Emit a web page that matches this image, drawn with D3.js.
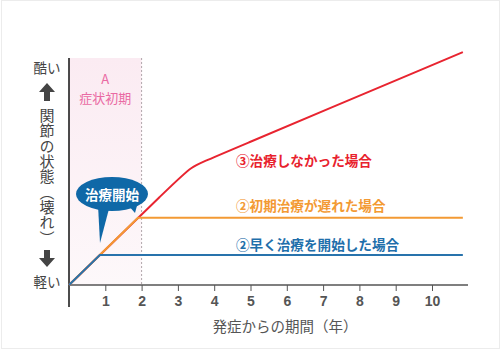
<!DOCTYPE html>
<html>
<head>
<meta charset="utf-8">
<script src="https://cdn.jsdelivr.net/npm/d3@7"></script>
<style>
  body { margin: 0; background: #fff; }
  text { font-family: "Noto Sans CJK JP", "Noto Sans", sans-serif; }
</style>
</head>
<body>
<div id="root"></div>
<script>
// values (years vs. joint damage, 0-100 relative scale)
var years = [1, 2, 3, 4, 5, 6, 7, 8, 9, 10];
var earlyX = [0, 0.85, 10.85];
var earlyY = [0, 13.2, 13.2];
var lateX = [0, 1.9, 10.85];
var lateY = [0, 29.6, 29.6];
var noneX = [0, 2.9, 3.35, 3.9, 10.85];
var noneY = [0, 45, 52, 55.7, 102.6];
var seriesNames = ["②早く治療を開始した場合", "②初期治療が遅れた場合", "③治療しなかった場合"];
var yAxisTitle = "関節の状態（壊れ）";

window.onload = function () {
    var width = 502, height = 351;
    var x = d3.scaleLinear().domain([0, 10]).range([69, 432]);
    var y = d3.scaleLinear().domain([0, 100]).range([285, 58]);

    var svg = d3.select("#root").append("svg")
        .attr("width", width)
        .attr("height", height);

    // outer frame
    svg.append("rect")
        .attr("x", 1.5).attr("y", 0.5)
        .attr("width", 498).attr("height", 348)
        .attr("fill", "#fff")
        .attr("stroke", "#ececec");

    var defs = svg.append("defs");
    var grad = defs.append("linearGradient")
        .attr("id", "pink").attr("x1", 0).attr("y1", 0).attr("x2", 0).attr("y2", 1);
    grad.append("stop").attr("offset", "0%").attr("stop-color", "#fbebf2");
    grad.append("stop").attr("offset", "100%").attr("stop-color", "#fdf8fa");

    // early symptom band (0-2 years)
    svg.append("rect")
        .attr("x", x(0)).attr("y", y(100))
        .attr("width", x(2) - x(0)).attr("height", y(0) - y(100))
        .attr("fill", "url(#pink)");
    svg.append("line")
        .attr("x1", x(2)).attr("x2", x(2))
        .attr("y1", y(100)).attr("y2", y(0))
        .attr("stroke", "#b0a6aa")
        .attr("stroke-dasharray", "2,2");
    svg.append("text")
        .attr("x", (x(0) + x(2)) / 2).attr("y", 84)
        .attr("text-anchor", "middle")
        .attr("fill", "#ea6aa3")
        .style("font-size", "13px")
        .text("A");
    svg.append("text")
        .attr("x", (x(0) + x(2)) / 2).attr("y", 103)
        .attr("text-anchor", "middle")
        .attr("fill", "#ea6aa3")
        .style("font-size", "13px")
        .text("症状初期");

    // x axis
    var xAxis = d3.axisBottom(x).tickValues(years).tickSize(6).tickSizeOuter(0);
    var gx = svg.append("g")
        .attr("transform", "translate(0," + y(0) + ")")
        .call(xAxis);
    gx.select(".domain").remove();
    gx.selectAll(".tick line").attr("stroke", "#555");
    gx.selectAll(".tick text")
        .attr("y", 11)
        .attr("fill", "#555")
        .style("font-family", "'Liberation Sans', Arial, sans-serif")
        .style("font-size", "14px")
        .style("font-weight", "bold");
    svg.append("line")
        .attr("x1", x(0)).attr("x2", 468)
        .attr("y1", y(0)).attr("y2", y(0))
        .attr("stroke", "#555").attr("stroke-width", 1.5);
    svg.append("line")
        .attr("x1", x(0)).attr("x2", x(0))
        .attr("y1", y(100)).attr("y2", 307)
        .attr("stroke", "#111").attr("stroke-width", 1.5);

    svg.append("text")
        .attr("x", 285).attr("y", 332)
        .attr("text-anchor", "middle")
        .attr("fill", "#555")
        .style("font-size", "14.5px")
        .text("発症からの期間（年）");

    // y axis labels
    svg.append("text")
        .attr("x", 47).attr("y", 73)
        .attr("text-anchor", "middle")
        .attr("fill", "#444")
        .style("font-size", "13.5px")
        .text("酷い");
    svg.append("text")
        .attr("x", 47).attr("y", 287)
        .attr("text-anchor", "middle")
        .attr("fill", "#444")
        .style("font-size", "13.5px")
        .text("軽い");
    svg.append("text")
        .attr("x", 47).attr("y", 108)
        .style("writing-mode", "vertical-rl")
        .style("letter-spacing", "0.3px")
        .attr("fill", "#444")
        .style("font-size", "15px")
        .text(yAxisTitle);
    // arrows
    svg.append("path")
        .attr("d", "M47,83 L55,92 L50,92 L50,101 L44,101 L44,92 L39,92 Z")
        .attr("fill", "#444");
    svg.append("path")
        .attr("d", "M47,267 L55,258 L50,258 L50,250 L44,250 L44,258 L39,258 Z")
        .attr("fill", "#444");

    // lines
    var line = d3.line()
        .x(function (d) { return x(d[0]); })
        .y(function (d) { return y(d[1]); });
    var curved = d3.line()
        .x(function (d) { return x(d[0]); })
        .y(function (d) { return y(d[1]); })
        .curve(d3.curveBasis);

    svg.append("path")
        .datum(noneX.map(function (v, i) { return [v, noneY[i]]; }))
        .attr("d", curved)
        .attr("fill", "none")
        .attr("stroke", "#e82430")
        .attr("stroke-width", 2);
    svg.append("path")
        .datum(lateX.map(function (v, i) { return [v, lateY[i]]; }))
        .attr("d", line)
        .attr("fill", "none")
        .attr("stroke", "#f39a34")
        .attr("stroke-width", 2);
    svg.append("path")
        .datum(earlyX.map(function (v, i) { return [v, earlyY[i]]; }))
        .attr("d", line)
        .attr("fill", "none")
        .attr("stroke", "#2873ac")
        .attr("stroke-width", 2);

    // series labels
    var labelCol = ["#1f6fab", "#f39a34", "#e8222e"];
    var labelY = [244, 205, 160];
    svg.selectAll(".slabel")
        .data(seriesNames)
        .enter().append("text")
        .attr("class", "slabel")
        .attr("x", 236)
        .attr("y", function (d, i) { return labelY[i]; })
        .attr("dominant-baseline", "central")
        .attr("fill", function (d, i) { return labelCol[i]; })
        .attr("stroke", "#fff")
        .attr("stroke-width", 3)
        .attr("paint-order", "stroke")
        .style("font-size", "13.6px")
        .style("font-weight", "bold")
        .text(function (d) { return d; });

    // callout bubble
    var bubble = svg.append("g");
    bubble.append("path")
        .attr("d", "M98,205 L100,243 L110,205 Z")
        .attr("fill", "#0f68a7");
    bubble.append("path")
        .attr("d", "M128,205 L135,213 L138,202 Z")
        .attr("fill", "#0f68a7");
    bubble.append("ellipse")
        .attr("cx", 112).attr("cy", 194)
        .attr("rx", 36).attr("ry", 17)
        .attr("fill", "#0f68a7");
    bubble.append("text")
        .attr("x", 112).attr("y", 194)
        .attr("text-anchor", "middle")
        .attr("dominant-baseline", "central")
        .attr("fill", "#fff")
        .style("font-size", "13.5px")
        .style("font-weight", "bold")
        .text("治療開始");
};
</script>
</body>
</html>
